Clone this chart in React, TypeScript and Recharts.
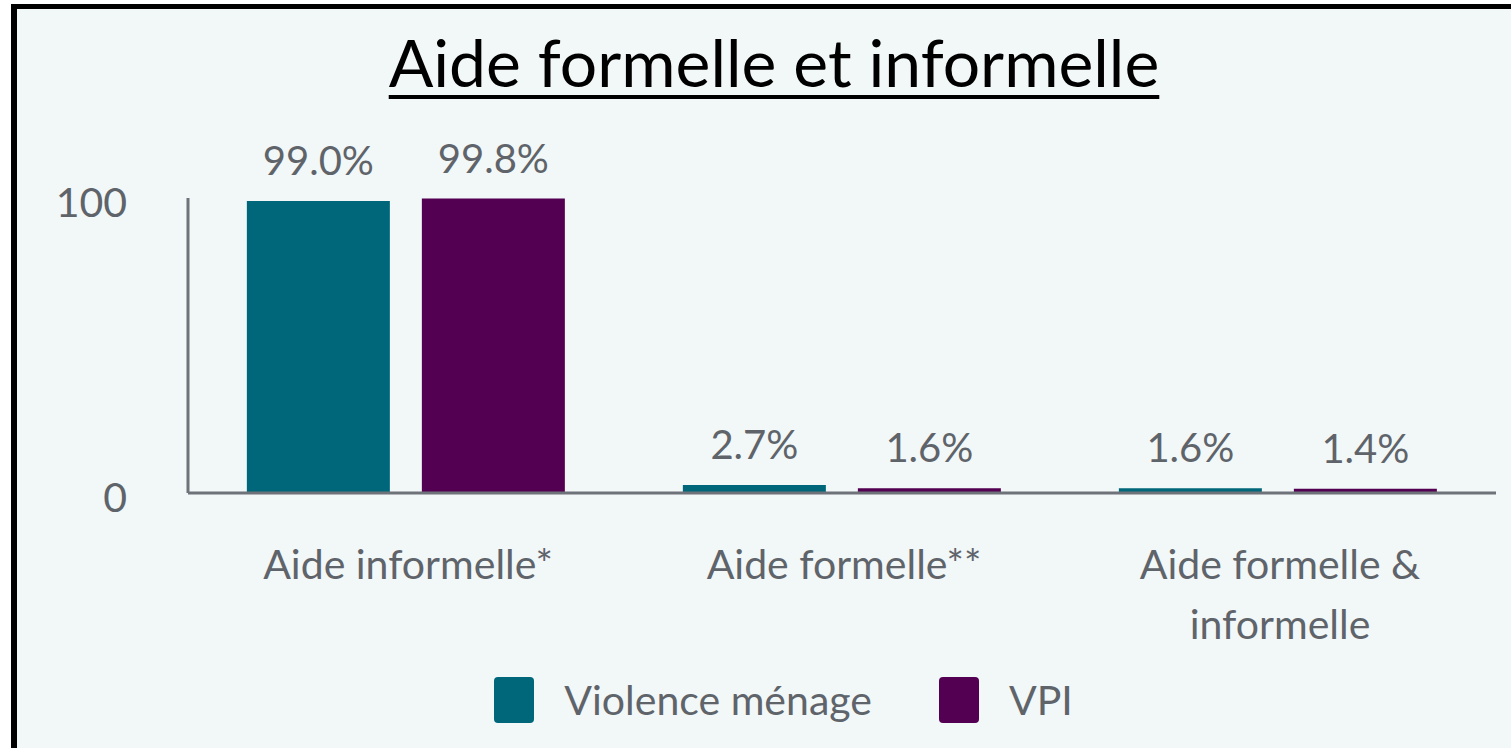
import React from "react";
import { BarChart, Bar, XAxis, YAxis, LabelList, Legend } from "recharts";

const categories = ["Aide informelle*", "Aide formelle**", "Aide formelle &\ninformelle"];
const violenceMenage = [99.0, 2.7, 1.6];
const vpi = [99.8, 1.6, 1.4];
const yTicks = [0, 100];
const seriesNames = ["Violence ménage", "VPI"];
const title = "Aide formelle et informelle";

const data = categories.map((c, i) => ({ cat: c, vm: violenceMenage[i], vpi: vpi[i] }));

const FONT = "Lato, 'Noto Sans', sans-serif";
const TEXT_GRAY = "#5f646a";
const AXIS_GRAY = "#6e7379";
const TEAL = "#00677a";
const PURPLE = "#530052";

const XTick = (props: any) => {
  const { x, y, payload } = props;
  const lines = String(payload.value).split("\n");
  return (
    <text x={x + 2} y={y + 84} textAnchor="middle" fill={TEXT_GRAY} fontFamily={FONT} fontSize={41}>
      {lines.map((l, i) => (
        <tspan key={i} x={x + 2} dy={i === 0 ? 0 : 60}>
          {l}
        </tspan>
      ))}
    </text>
  );
};

const YTick = (props: any) => {
  const { x, y, payload } = props;
  return (
    <text x={x} y={y + 19} textAnchor="end" fill={TEXT_GRAY} fontFamily={FONT} fontSize={41}>
      {payload.value}
    </text>
  );
};

const LegendContent = () => {
  const colors = [TEAL, PURPLE];
  return (
    <div style={{ display: "flex", justifyContent: "center", alignItems: "center", fontFamily: FONT }}>
      {seriesNames.map((n, i) => (
        <div key={n} style={{ display: "flex", alignItems: "center", marginRight: i === 0 ? 67 : 0 }}>
          <div style={{ width: 40, height: 46, background: colors[i], borderRadius: 4, marginRight: 30 }} />
          <span style={{ fontSize: 41, color: TEXT_GRAY }}>{n}</span>
        </div>
      ))}
    </div>
  );
};

export default function App() {
  return (
    <div style={{ position: "absolute", left: 0, top: 0, width: 1511, height: 748, background: "#ffffff", overflow: "hidden" }}>
      <div
        style={{
          position: "absolute",
          left: 11,
          top: 4,
          width: 1510,
          height: 739,
          borderLeft: "6px solid #000",
          borderTop: "5px solid #000",
          borderBottom: "2px solid #d3d9db",
          background: "#f2f7f8",
        }}
      />
      <div
        style={{
          position: "absolute",
          left: 0,
          width: 1548,
          top: 22,
          textAlign: "center",
          fontFamily: "Lato, sans-serif",
          fontSize: 66,
          color: "#000",
          textDecoration: "underline",
          textDecorationThickness: 4,
          textUnderlineOffset: 8,
          lineHeight: "80px",
        }}
      >
        {title}
      </div>
      <div style={{ position: "absolute", left: 0, top: 0 }}>
        <BarChart
          width={1511}
          height={748}
          data={data}
          margin={{ top: 198, right: 15, bottom: 155, left: 0 }}
          barCategoryGap="13.5%"
          barGap={32}
        >
          <XAxis
            dataKey="cat"
            height={100}
            tickLine={false}
            tickSize={0}
            axisLine={{ stroke: AXIS_GRAY, strokeWidth: 3 }}
            tick={<XTick />}
            interval={0}
          />
          <YAxis
            width={188}
            domain={[0, 100]}
            ticks={yTicks}
            tickLine={false}
            tickSize={0}
            tickMargin={61}
            axisLine={{ stroke: AXIS_GRAY, strokeWidth: 3 }}
            tick={<YTick />}
          />
          <Legend
            verticalAlign="middle"
            align="center"
            layout="horizontal"
            content={<LegendContent />}
            wrapperStyle={{ top: 675, left: 28, width: 1511, height: 50 }}
          />
          <Bar dataKey="vm" name={seriesNames[0]} fill={TEAL} isAnimationActive={false}>
            <LabelList
              dataKey="vm"
              position="top"
              offset={26}
              formatter={(v: any) => `${Number(v).toFixed(1)}%`}
              fill={TEXT_GRAY}
              fontFamily={FONT}
              fontSize={40}
            />
          </Bar>
          <Bar dataKey="vpi" name={seriesNames[1]} fill={PURPLE} isAnimationActive={false}>
            <LabelList
              dataKey="vpi"
              position="top"
              offset={26}
              formatter={(v: any) => `${Number(v).toFixed(1)}%`}
              fill={TEXT_GRAY}
              fontFamily={FONT}
              fontSize={40}
            />
          </Bar>
        </BarChart>
      </div>
    </div>
  );
}
